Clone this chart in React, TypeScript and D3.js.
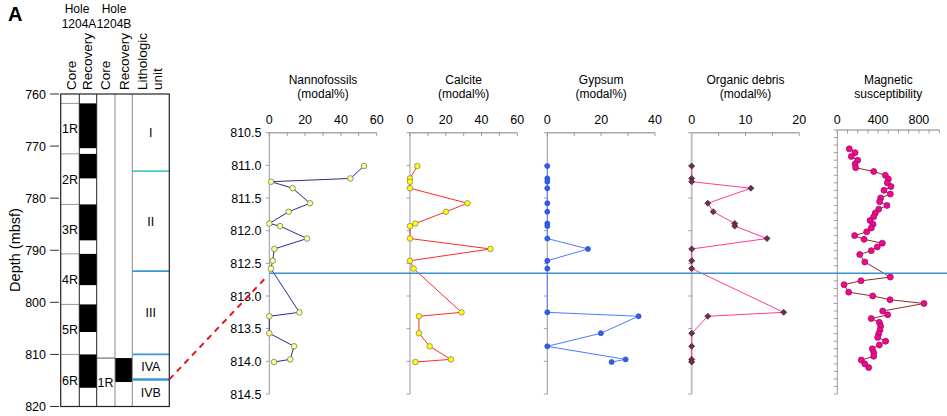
import React from 'react';
import * as d3 from 'd3';

const W = 947;
const H = 416;
const FONT = "'Liberation Sans', Arial, Helvetica, sans-serif";

// ---- core log (left) ----
const depthTicks = [760, 770, 780, 790, 800, 810, 820];
const coresA = ['1R', '2R', '3R', '4R', '5R', '6R'];
const coreTopA = [761.8, 771.5, 781.2, 790.7, 800.4, 810.0];
const coreBotA = [771.5, 781.2, 790.7, 800.4, 810.0, 820];
const recBotA = [770.4, 776.2, 788.1, 796.7, 805.7, 816.4];
const coresB = ['1R'];
const coreTopB = [810.7];
const coreBotB = [820];
const recBotB = [815.3];
const unitNames = ['I', 'II', 'III', 'IVA', 'IVB'];
const unitTops = [760, 774.8, 794.0, 810.0, 814.8];
const unitBots = [774.8, 794.0, 810.0, 814.8, 820];
const zoomDepthLeft = 814.8;
const zoomDepthRight = 812.65;

// ---- modal analyses (right) ----
const sampleDepth = [811.01, 811.2, 811.25, 811.35, 811.58, 811.71, 811.89, 811.93, 812.12, 812.28, 812.46, 812.58, 813.25, 813.31, 813.57, 813.77, 813.97, 814.01];
const nannofossils = [52.9, 45.3, 1, 13, 22.7, 10.8, 0, 6, 21.1, 2.8, 1.9, 0.9, 16.8, 0, 0, 13.8, 11.7, 2.6];
const calcite = [4.1, 0, 0, 0, 32.1, 20.1, 3.0, 0, 0, 45, 0, 2, 28.8, 5, 5, 11, 22.9, 3];
const gypsum = [0, 0, 0, 0, 0, 0, 0, 0, 0, 15.1, 0, 0, 0, 33.9, 19.9, 0, 29.1, 23.9];
const organic = [0, 0, 0, 11, 3, 4, 8, 8, 14, 0, 0, 0, 17.1, 3, 0, 0, 0, 0];
const depthLabels = [810.5, 811.0, 811.5, 812.0, 812.5, 813.0, 813.5, 814.0, 814.5];

// ---- magnetic susceptibility ----
const magDepth = [
  810.75, 810.8, 810.85, 810.9, 810.95, 811.0, 811.05, 811.1, 811.15, 811.2,
  811.25, 811.3, 811.35, 811.4, 811.45, 811.5, 811.55, 811.6, 811.65, 811.7,
  811.75, 811.8, 811.85, 811.9, 811.95, 812.0, 812.05, 812.1, 812.15, 812.25,
  812.45, 812.5, 812.55, 812.65, 812.7, 812.75, 812.8, 812.9, 812.95, 813.0,
  813.05, 813.1, 813.15, 813.2, 813.25, 813.3, 813.35, 813.4, 813.45, 813.5,
  813.55, 813.6, 813.65,
];
const magValue = [
  118, 174, 137, 200, 174, 180, 357, 471, 500, 490,
  526, 458, 520, 425, 415, 487, 406, 373, 357, 321,
  350, 333, 288, 170, 262, 441, 392, 333, 220, 270,
  520, 232, 66, 112, 347, 517, 850, 445, 494, 333,
  412, 425, 419, 406, 396, 474, 412, 343, 357, 357,
  235, 269, 308,
];

const yL = d3.scaleLinear().domain([760, 820]).range([94, 406.5]);
const colX = [60.7, 79.3, 96.7, 115, 132.3, 169.3];
const yR = d3.scaleLinear().domain([810.5, 814.5]).range([132.7, 394]);
const yM = d3.scaleLinear().domain([810.5, 814.0]).range([130, 394]);

type Panel = {
  title: string[];
  x: d3.ScaleLinear<number, number>;
  y: d3.ScaleLinear<number, number>;
  minor: number;
  major: number;
  depth: number[];
  values: number[];
  line: string;
  fill: string;
  stroke: string;
  marker: 'circle' | 'diamond';
  r: number;
  yTicks: number[];
  vAxis: string;
  vWidth: number;
};

const panels: Panel[] = [
  { title: ['Nannofossils', '(modal%)'], x: d3.scaleLinear().domain([0, 60]).range([269.3, 376.7]), y: yR, minor: 10, major: 20,
    depth: sampleDepth, values: nannofossils, line: '#2d2d8f', fill: '#ffff8c', stroke: '#666', marker: 'circle', r: 2.8,
    yTicks: depthLabels, vAxis: '#999', vWidth: 1 },
  { title: ['Calcite', '(modal%)'], x: d3.scaleLinear().domain([0, 60]).range([410, 517.3]), y: yR, minor: 10, major: 20,
    depth: sampleDepth, values: calcite, line: '#ff2a2a', fill: '#ffff00', stroke: '#777', marker: 'circle', r: 2.8,
    yTicks: depthLabels, vAxis: '#999', vWidth: 1 },
  { title: ['Gypsum', '(modal%)'], x: d3.scaleLinear().domain([0, 40]).range([547.3, 655]), y: yR, minor: 10, major: 20,
    depth: sampleDepth, values: gypsum, line: '#4a7cff', fill: '#2f5ff0', stroke: '#2448c0', marker: 'circle', r: 2.5,
    yTicks: depthLabels, vAxis: '#999', vWidth: 1 },
  { title: ['Organic debris', '(modal%)'], x: d3.scaleLinear().domain([0, 20]).range([691.7, 799.3]), y: yR, minor: 5, major: 10,
    depth: sampleDepth, values: organic, line: '#ff3b9a', fill: '#7a2a50', stroke: '#222', marker: 'diamond', r: 3,
    yTicks: depthLabels, vAxis: '#c4c4c4', vWidth: 2 },
  { title: ['Magnetic', 'susceptibility'], x: d3.scaleLinear().domain([0, 1000]).range([837.3, 939.3]), y: yM, minor: 100, major: 400,
    depth: magDepth, values: magValue, line: '#8e2a2a', fill: '#ee0a8c', stroke: '#a0005a', marker: 'circle', r: 3,
    yTicks: d3.range(0, 36).map(i => 810.5 + i * 0.1), vAxis: '#999', vWidth: 1 },
];

const diamond = 'M0,-3L3,0L0,3L-3,0Z';

function PanelView({ p, showDepth }: { p: Panel; showDepth: boolean }) {
  const [d0, d1] = p.y.domain();
  const [x0, x1] = p.x.range();
  const top = p.y(d0);
  const bottom = p.y(d1);
  const cx = (x0 + x1) / 2;
  const max = p.x.domain()[1];
  const minorTicks = d3.range(0, max + p.minor / 2, p.minor);
  const majorTicks = d3.range(0, max + p.major / 2, p.major).filter(v => v <= max);
  const pts = p.depth.map((d, i) => [p.x(p.values[i]), p.y(d)] as [number, number]);
  const path = d3.line()(pts) || '';
  return (
    <g>
      <text x={cx} y={84} textAnchor="middle" fontSize={12}>{p.title[0]}</text>
      <text x={cx} y={98} textAnchor="middle" fontSize={12}>{p.title[1]}</text>
      {majorTicks.map(v => (
        <text key={v} x={p.x(v)} y={124} textAnchor="middle" fontSize={12.5}>{v}</text>
      ))}
      <line x1={x0} x2={x1} y1={top} y2={top} stroke="#aaa" strokeWidth={1.5} />
      {minorTicks.map(v => (
        <line key={v} x1={p.x(v)} x2={p.x(v)} y1={top} y2={top + 3.5} stroke="#888" strokeWidth={0.8} />
      ))}
      <line x1={x0} x2={x0} y1={top} y2={bottom} stroke={p.vAxis} strokeWidth={p.vWidth} />
      {p.yTicks.map((d, i) => (
        <line key={i} x1={x0 - 3.5} x2={x0} y1={p.y(d)} y2={p.y(d)} stroke="#888" strokeWidth={0.8} />
      ))}
      {showDepth && p.yTicks.map((d, i) => (
        <text key={'l' + i} x={261.5} y={p.y(d) + 4.5} textAnchor="end" fontSize={12.5}>{d.toFixed(1)}</text>
      ))}
      <path d={path} fill="none" stroke={p.line} strokeWidth={1} />
      {pts.map(([x, y], i) =>
        p.marker === 'diamond' ? (
          <path key={i} d={diamond} transform={`translate(${x},${y})`} fill={p.fill} stroke={p.stroke} strokeWidth={0.7} />
        ) : (
          <circle key={i} cx={x} cy={y} r={p.r} fill={p.fill} stroke={p.stroke} strokeWidth={0.7} />
        )
      )}
    </g>
  );
}

function CoreLog() {
  const [c0, c1, c2, c3, c4, c5] = colX;
  const yTop = yL(760);
  const yBot = yL(820);
  const headers = [
    { t: 'Core', x: 75.5 },
    { t: 'Recovery', x: 92 },
    { t: 'Core', x: 110 },
    { t: 'Recovery', x: 128.5 },
    { t: 'Lithologic', x: 146.5 },
    { t: 'unit', x: 162 },
  ];
  return (
    <g>
      <text x={8} y={21} fontSize={20} fontWeight="bold">A</text>
      <text x={77} y={13} textAnchor="middle" fontSize={12}>Hole</text>
      <text x={79} y={28} textAnchor="middle" fontSize={12}>1204A</text>
      <text x={114} y={13} textAnchor="middle" fontSize={12}>Hole</text>
      <text x={114} y={28} textAnchor="middle" fontSize={12}>1204B</text>
      {headers.map((h, i) => (
        <text key={i} transform={`translate(${h.x},90) rotate(-90)`} fontSize={13.5}>{h.t}</text>
      ))}
      <text transform={`translate(20,250) rotate(-90)`} textAnchor="middle" fontSize={14.5}>Depth (mbsf)</text>
      {depthTicks.map(d => (
        <g key={d}>
          <line x1={50} x2={59} y1={yL(d)} y2={yL(d)} stroke="#333" strokeWidth={1} />
          <text x={46} y={yL(d) + 4.5} textAnchor="end" fontSize={12.5}>{d}</text>
        </g>
      ))}
      {/* Hole 1204A */}
      {coresA.map((c, i) => (
        <g key={c}>
          <rect x={c1} width={c2 - c1} y={yL(coreTopA[i])} height={yL(recBotA[i]) - yL(coreTopA[i])} fill="#000" />
          <line x1={c0} x2={c1} y1={yL(coreTopA[i])} y2={yL(coreTopA[i])} stroke="#999" strokeWidth={1} />
          <text x={62} y={(yL(coreTopA[i]) + yL(coreBotA[i])) / 2 + 4.5} fontSize={12.5}>{c}</text>
        </g>
      ))}
      {/* Hole 1204B */}
      {coresB.map((c, i) => (
        <g key={c}>
          <rect x={c3} width={c4 - c3} y={yL(coreTopB[i])} height={yL(recBotB[i]) - yL(coreTopB[i])} fill="#000" />
          <line x1={c2} x2={c3} y1={yL(coreTopB[i])} y2={yL(coreTopB[i])} stroke="#555" strokeWidth={1} />
          <text x={97.5} y={(yL(coreTopB[i]) + yL(coreBotB[i])) / 2 + 5} fontSize={12.5}>{c}</text>
        </g>
      ))}
      {/* Lithologic units */}
      {unitNames.map((u, i) => (
        <g key={u}>
          {i > 0 && (
            <line x1={c4} x2={c5} y1={yL(unitTops[i])} y2={yL(unitTops[i])}
              stroke={i === 1 ? '#4cc6c6' : '#3a96d8'} strokeWidth={i === 4 ? 2.5 : 1.8} />
          )}
          <text x={(c4 + c5) / 2} y={(yL(unitTops[i]) + yL(unitBots[i])) / 2 + 4.5} textAnchor="middle" fontSize={12.5}>{u}</text>
        </g>
      ))}
      {[c1, c2].map((x, i) => (
        <line key={'v' + i} x1={x} x2={x} y1={yTop} y2={yBot} stroke="#222" strokeWidth={1} />
      ))}
      {[c3, c4].map((x, i) => (
        <line key={'g' + i} x1={x} x2={x} y1={yTop} y2={yBot} stroke="#888" strokeWidth={1} />
      ))}
      <rect x={c0} y={yTop} width={c5 - c0} height={yBot - yTop} fill="none" stroke="#222" strokeWidth={1.2} />
    </g>
  );
}

export default function App() {
  const nx0 = panels[0].x.range()[0];
  const yz = yR(zoomDepthRight);
  return (
    <div style={{ position: 'absolute', left: 0, top: 0 }}>
      <svg width={W} height={H} style={{ display: 'block', background: '#fff' }} fontFamily={FONT}>
        <CoreLog />
        {panels.map((p, i) => <PanelView key={i} p={p} showDepth={i === 0} />)}
        <line x1={nx0} x2={W} y1={yz} y2={yz} stroke="#3a8fd8" strokeWidth={1.5} />
        <line x1={colX[5]} y1={yL(zoomDepthLeft)} x2={nx0 - 3} y2={yz + 4}
          stroke="#e8141a" strokeWidth={2} strokeDasharray="6,5" />
      </svg>
    </div>
  );
}
